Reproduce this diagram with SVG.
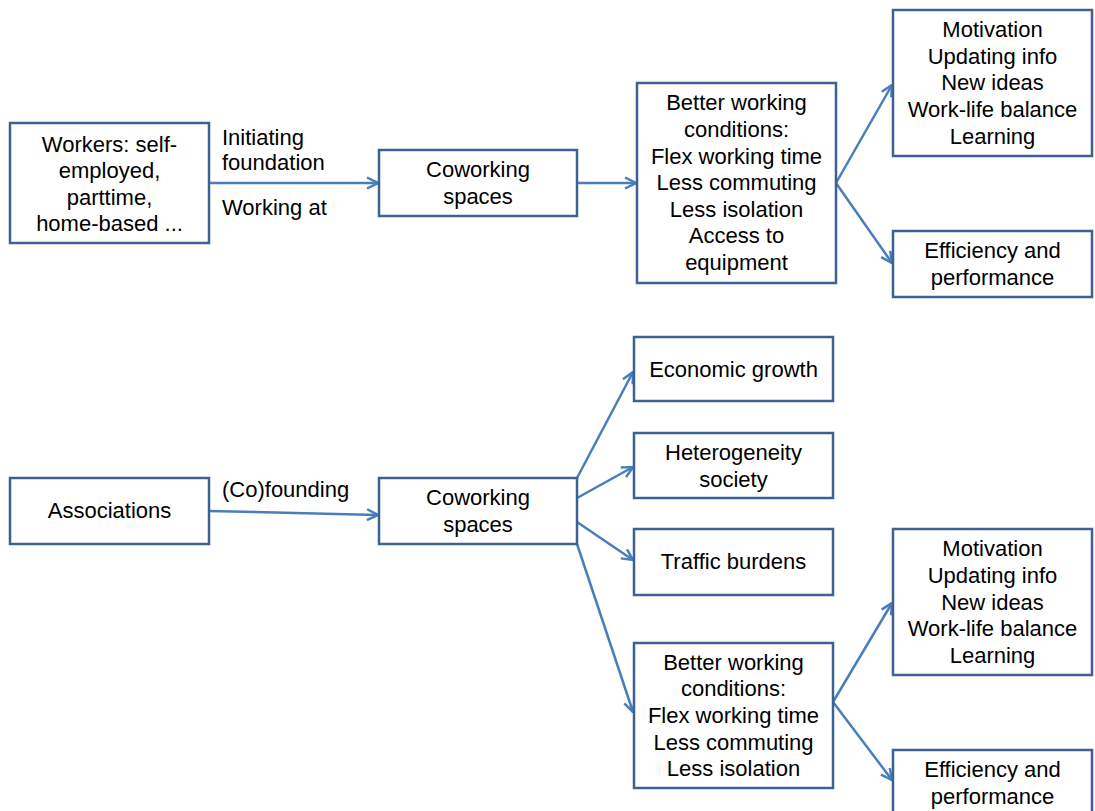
<svg xmlns="http://www.w3.org/2000/svg" width="1095" height="811" viewBox="0 0 1095 811">
<style>
.box{fill:#fff;stroke:#3C6193;stroke-width:2.5}
.t{font-family:"Liberation Sans",Arial,sans-serif;font-size:22px;fill:#000;text-anchor:middle}
.l{font-family:"Liberation Sans",Arial,sans-serif;font-size:22px;fill:#000}
.c{fill:none;stroke:#4A7EBB;stroke-width:2.5}
</style>
<defs>
<marker id="a" viewBox="0 0 14 14" refX="13" refY="7" markerWidth="14" markerHeight="14" markerUnits="userSpaceOnUse" orient="auto">
<path d="M2,1.5 L13,7 L2,12.5" fill="none" stroke="#4A7EBB" stroke-width="2.5"/>
</marker>
</defs>
<rect width="1095" height="811" fill="#fff"/>
<g id="connectors">
<line class="c" x1="209" y1="183" x2="378" y2="183" marker-end="url(#a)"/>
<line class="c" x1="577" y1="183" x2="636" y2="183" marker-end="url(#a)"/>
<line class="c" x1="836" y1="183" x2="892" y2="85" marker-end="url(#a)"/>
<line class="c" x1="836" y1="183" x2="892" y2="263" marker-end="url(#a)"/>
<line class="c" x1="209" y1="511" x2="378" y2="515" marker-end="url(#a)"/>
<line class="c" x1="577" y1="478" x2="633" y2="372" marker-end="url(#a)"/>
<line class="c" x1="577" y1="498" x2="633" y2="467" marker-end="url(#a)"/>
<line class="c" x1="577" y1="522" x2="633" y2="560" marker-end="url(#a)"/>
<line class="c" x1="577" y1="544" x2="633" y2="712" marker-end="url(#a)"/>
<line class="c" x1="833" y1="702" x2="892" y2="603" marker-end="url(#a)"/>
<line class="c" x1="833" y1="702" x2="892" y2="780" marker-end="url(#a)"/>
</g>
<g id="labels">
<text class="l" x="222" y="145">Initiating</text>
<text class="l" x="222" y="170">foundation</text>
<text class="l" x="222" y="215">Working at</text>
<text class="l" x="222" y="497">(Co)founding</text>
</g>
<g id="workers">
<rect class="box" x="10" y="123" width="199" height="120"/>
<text class="t" x="109.5" y="152">Workers: self-</text>
<text class="t" x="109.5" y="178">employed,</text>
<text class="t" x="109.5" y="205">parttime,</text>
<text class="t" x="109.5" y="231">home-based ...</text>
</g>
<g id="coworking1">
<rect class="box" x="379" y="150" width="198" height="66"/>
<text class="t" x="478" y="177">Coworking</text>
<text class="t" x="478" y="204">spaces</text>
</g>
<g id="better1">
<rect class="box" x="637" y="83" width="199" height="200"/>
<text class="t" x="736.5" y="110">Better working</text>
<text class="t" x="736.5" y="137">conditions:</text>
<text class="t" x="736.5" y="164">Flex working time</text>
<text class="t" x="736.5" y="190">Less commuting</text>
<text class="t" x="736.5" y="217">Less isolation</text>
<text class="t" x="736.5" y="243">Access to</text>
<text class="t" x="736.5" y="270">equipment</text>
</g>
<g id="motivation1">
<rect class="box" x="893" y="10" width="199" height="146"/>
<text class="t" x="992.5" y="37">Motivation</text>
<text class="t" x="992.5" y="64">Updating info</text>
<text class="t" x="992.5" y="90">New ideas</text>
<text class="t" x="992.5" y="117">Work-life balance</text>
<text class="t" x="992.5" y="144">Learning</text>
</g>
<g id="efficiency1">
<rect class="box" x="893" y="231" width="199" height="66"/>
<text class="t" x="992.5" y="258">Efficiency and</text>
<text class="t" x="992.5" y="285">performance</text>
</g>
<g id="associations">
<rect class="box" x="10" y="478" width="199" height="66"/>
<text class="t" x="109.5" y="518">Associations</text>
</g>
<g id="coworking2">
<rect class="box" x="379" y="478" width="198" height="66"/>
<text class="t" x="478" y="505">Coworking</text>
<text class="t" x="478" y="532">spaces</text>
</g>
<g id="economic">
<rect class="box" x="634" y="337" width="199" height="64"/>
<text class="t" x="733.5" y="377">Economic growth</text>
</g>
<g id="heterogeneity">
<rect class="box" x="634" y="433" width="199" height="65"/>
<text class="t" x="733.5" y="460">Heterogeneity</text>
<text class="t" x="733.5" y="487">society</text>
</g>
<g id="traffic">
<rect class="box" x="634" y="529" width="199" height="66"/>
<text class="t" x="733.5" y="569">Traffic burdens</text>
</g>
<g id="better2">
<rect class="box" x="634" y="643" width="199" height="145"/>
<text class="t" x="733.5" y="670">Better working</text>
<text class="t" x="733.5" y="696">conditions:</text>
<text class="t" x="733.5" y="723">Flex working time</text>
<text class="t" x="733.5" y="750">Less commuting</text>
<text class="t" x="733.5" y="776">Less isolation</text>
</g>
<g id="motivation2">
<rect class="box" x="893" y="529" width="199" height="146"/>
<text class="t" x="992.5" y="556">Motivation</text>
<text class="t" x="992.5" y="583">Updating info</text>
<text class="t" x="992.5" y="610">New ideas</text>
<text class="t" x="992.5" y="636">Work-life balance</text>
<text class="t" x="992.5" y="663">Learning</text>
</g>
<g id="efficiency2">
<rect class="box" x="893" y="750" width="199" height="66"/>
<text class="t" x="992.5" y="777">Efficiency and</text>
<text class="t" x="992.5" y="804">performance</text>
</g>
</svg>
